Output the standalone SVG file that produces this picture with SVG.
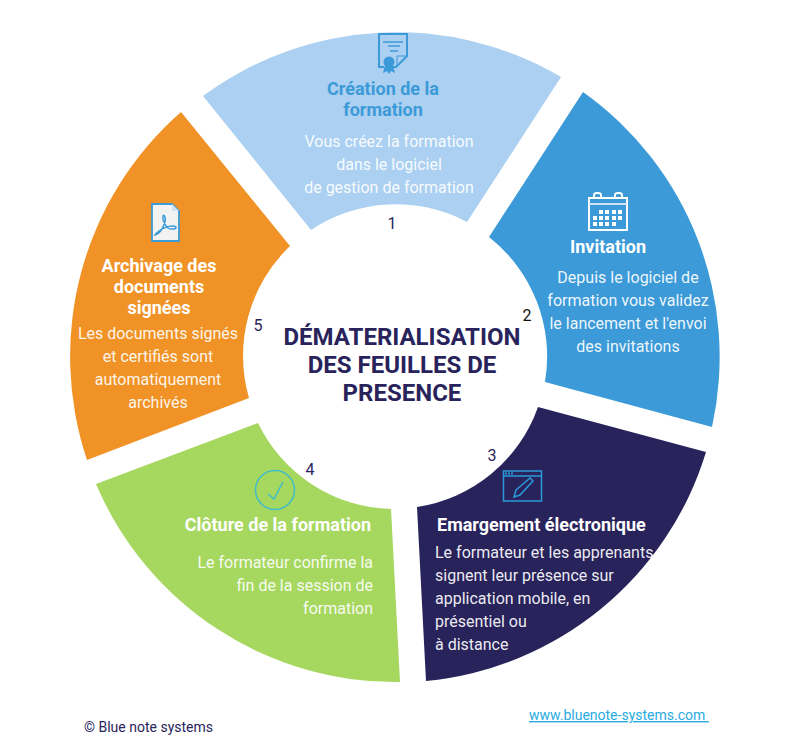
<svg xmlns="http://www.w3.org/2000/svg" width="800" height="751" viewBox="0 0 800 751">
<style>
text{font-family:Roboto,"Liberation Sans",sans-serif}
.h{font-size:18px;font-weight:700;fill:#fff}
.b{font-size:16px;font-weight:400;fill:#fff;fill-opacity:.93}
.n{font-size:16px;fill:#29235c}
.m{text-anchor:middle}
.e{text-anchor:end}
.t{font-size:24px;font-weight:700;fill:#29235c;text-anchor:middle}
.i{fill:none;stroke-width:2}
</style>
<rect width="800" height="751" fill="#fff"/>
<g id="step-1">
<path d="M203 96A325 325 0 0 1 561 77L467 222A152 152 0 0 0 311 230Z" fill="#abd0f1"/>
<g class="i" stroke="#3b9ad7">
<path d="M384 67H379V34H407V56L396 67H391"/><path d="M407 56H397V66" stroke-width="1"/>
<path d="M383 42H403M388 46H400M390 51H398" stroke-width="1.5"/>
</g>
<circle cx="389" cy="62" r="5.5" fill="#3b9ad7"/>
<path d="M385 65L383 73L387 71L389 74L391 71L395 73L393 65Z" fill="#3b9ad7"/>
<text class="h m" x="383" y="95" style="fill:#3b9ad7">Création de la</text>
<text class="h m" x="383" y="116" style="fill:#3b9ad7">formation</text>
<text class="b m" x="389" y="147">Vous créez la formation</text>
<text class="b m" x="389" y="170">dans le logiciel</text>
<text class="b m" x="389" y="193">de gestion de formation</text>
<text class="n m" x="392" y="229">1</text>
</g>
<g id="step-2">
<path d="M583 92A325 325 0 0 1 712 427L545 382A152 152 0 0 0 489 237Z" fill="#3b9ad7"/>
<g class="i" stroke="#fff">
<rect x="589" y="198" width="38" height="32"/>
<path d="M594 197V195Q594 193 597 193H598Q601 193 601 195V197M615 197V195Q615 193 618 193H619Q622 193 622 195V197"/>
<path d="M589 204H627" stroke="#cfe3f5"/>
</g>
<path fill="#fff" d="M599 210h4v4h-4zM605 210h4v4h-4zM612 210h4v4h-4zM618 210h4v4h-4zM593 216h4v4h-4zM599 216h4v4h-4zM605 216h4v4h-4zM612 216h4v4h-4zM618 216h4v4h-4zM593 222h4v4h-4zM599 222h4v4h-4zM605 222h4v4h-4zM612 222h4v4h-4z"/>
<text class="h m" x="608" y="253">Invitation</text>
<text class="b m" x="628" y="283">Depuis le logiciel de</text>
<text class="b m" x="628" y="306">formation vous validez</text>
<text class="b m" x="628" y="329">le lancement et l'envoi</text>
<text class="b m" x="628" y="352">des invitations</text>
<text class="n m" x="527" y="321" style="fill:#111">2</text>
</g>
<g id="step-3">
<path d="M538 407L706 452A325 325 0 0 1 426 681L417 507A152 152 0 0 0 538 407Z" fill="#29235c"/>
<g class="i" stroke="#2b9ad8">
<rect x="503.500" y="471" width="38" height="30" stroke-width="1.500"/>
<path d="M504 476H541" stroke-width="1.500"/>
<path d="M516 490L530 478L533 481L520 495L514 497Z" stroke-width="1.500"/>
<path d="M505 473.500H513" stroke-dasharray="2 1" stroke-width="2"/>
</g>
<text class="h" x="437" y="531">Emargement électronique</text>
<text class="b" x="435" y="558">Le formateur et les apprenants</text>
<text class="b" x="435" y="581">signent leur présence sur</text>
<text class="b" x="435" y="604">application mobile, en</text>
<text class="b" x="435" y="627">présentiel ou</text>
<text class="b" x="435" y="650">à distance</text>
<text class="n m" x="492" y="461">3</text>
</g>
<g id="step-4">
<path d="M258 423A152 152 0 0 0 391 509L400 682A325 325 0 0 1 96 484Z" fill="#a6d75f"/>
<circle cx="275" cy="490" r="19.500" fill="none" stroke="#42bcc8" stroke-width="1.500"/>
<path d="M268 494L274 499L283 482" fill="none" stroke="#42bcc8" stroke-width="1.500"/>
<text class="h e" x="371" y="531">Clôture de la formation</text>
<text class="b e" x="373" y="568">Le formateur confirme la</text>
<text class="b e" x="373" y="591">fin de la session de</text>
<text class="b e" x="373" y="614">formation</text>
<text class="n m" x="310" y="475">4</text>
</g>
<g id="step-5">
<path d="M181 112L290 246A152 152 0 0 0 249 398L87 460A325 325 0 0 1 181 112Z" fill="#f09225"/>
<path d="M152 204H172L179 211V241H152Z" fill="#f2f2f2" stroke="#3b9ad7" stroke-width="1.800"/>
<path d="M172 204V211H179Z" fill="#cfe3f5"/>
<path d="M155 235C160 234 163 228 165 222C166 217 164 214 163 216C162 219 165 225 168 228C171 230 177 229 176 227C174 225 165 226 159 231C156 233 155 235 155 235Z" fill="none" stroke="#3b9ad7" stroke-width="1.500"/>
<text class="h m" x="159" y="272">Archivage des</text>
<text class="h m" x="159" y="293">documents</text>
<text class="h m" x="159" y="314">signées</text>
<text class="b m" x="158" y="339">Les documents signés</text>
<text class="b m" x="158" y="362">et certifiés sont</text>
<text class="b m" x="158" y="385">automatiquement</text>
<text class="b m" x="158" y="408">archivés</text>
<text class="n m" x="258" y="331">5</text>
</g>
<g id="center">
<text class="t" x="402" y="345">DÉMATERIALISATION</text>
<text class="t" x="402" y="373">DES FEUILLES DE</text>
<text class="t" x="402" y="401">PRESENCE</text>
</g>
<g id="footer">
<text x="84" y="732" font-size="14" fill="#29235c">© Blue note systems</text>
<text x="529" y="720" font-size="14" fill="#29abe2" text-decoration="underline">www.bluenote-systems.com&#160;</text>
</g>
</svg>
